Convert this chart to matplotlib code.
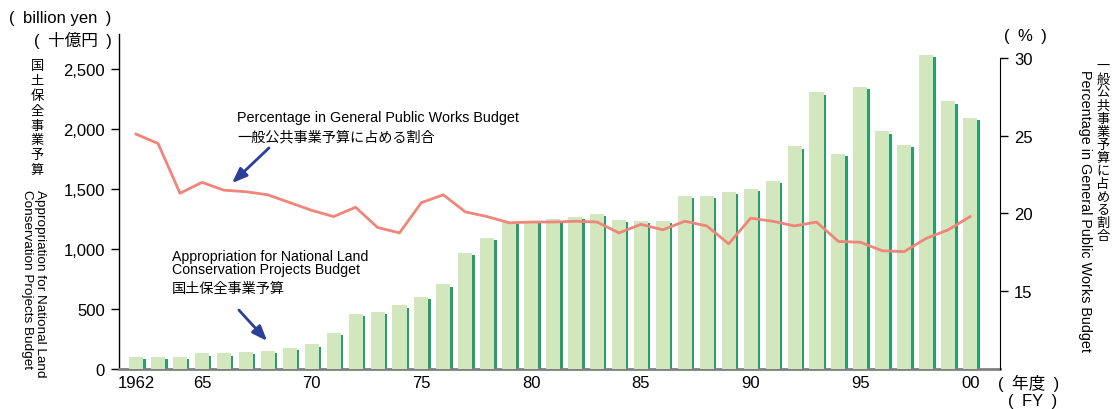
import numpy as np
import matplotlib
matplotlib.use('Agg')
import matplotlib.pyplot as plt

plt.rcParams['font.family'] = ['Liberation Sans', 'Noto Sans CJK JP', 'DejaVu Sans']

# Data
years = list(range(1962, 2001))
budget = [100, 100, 98, 130, 130, 140, 150, 175, 205, 300,
          460, 475, 530, 600, 705, 965, 1095, 1225, 1235, 1250,
          1265, 1290, 1240, 1235, 1235, 1440, 1440, 1475, 1500, 1565,
          1855, 2305, 1790, 2350, 1980, 1865, 2615, 2230, 2095]
share = [25.1, 24.5, 21.3, 22.0, 21.5, 21.4, 21.2, 20.7, 20.2, 19.8,
         20.4, 19.1, 18.75, 20.7, 21.2, 20.1, 19.8, 19.4, 19.45, 19.45,
         19.5, 19.45, 18.75, 19.3, 18.95, 19.5, 19.2, 18.05, 19.7, 19.5,
         19.2, 19.45, 18.2, 18.15, 17.6, 17.55, 18.4, 18.95, 19.8]
tick_years = [1962, 1965, 1970, 1975, 1980, 1985, 1990, 1995, 2000]
tick_labels = ['1962', '65', '70', '75', '80', '85', '90', '95', '00']

light = '#d3e7bf'
dark = '#2a9d6c'
red = '#f0857a'
navy = '#2b3f98'
fs = 12
sp = '\u2002'  # en space, parentheses in the original are spaced wide

fig = plt.figure(figsize=(11.16, 4.10), dpi=100)
ax = fig.add_axes([119 / 1116, 1 - 370 / 410, (1000 - 119) / 1116, (370 - 35) / 410])
ax2 = ax.twinx()

yrs = np.array(years)
vals = np.array(budget)
# 3D-ish bars: dark side strip then light face
ax.bar(yrs + 0.30, vals - 18, width=0.13, align='edge', color=dark, zorder=2)
ax.bar(yrs, vals, width=0.64, color=light, zorder=3)

ax.set_xlim(1961.22, 2001.36)
ax.set_ylim(0, 2792)
ax.set_yticks([0, 500, 1000, 1500, 2000, 2500])
ax.set_yticklabels(['0', '500', '1,000', '1,500', '2,000', '2,500'])
ax.set_xticks(tick_years)
ax.set_xticklabels(tick_labels)
ax.tick_params(axis='x', length=0, pad=4, labelsize=fs)
ax.tick_params(axis='y', length=6, width=1, labelsize=fs, pad=4)
for s in ['top', 'right']:
    ax.spines[s].set_visible(False)
ax.spines['bottom'].set_color('#808080')
ax.spines['bottom'].set_linewidth(2)
ax.spines['left'].set_linewidth(1)

ax2.plot(yrs, share, color=red, lw=2, zorder=4)
ax2.set_ylim(10, 31.54)
ax2.set_yticks([15, 20, 25, 30])
ax2.tick_params(axis='y', length=6, width=1, labelsize=fs, pad=4)
ax2.spines['right'].set_bounds(10, 30)
for s in ['top', 'left', 'bottom']:
    ax2.spines[s].set_visible(False)
ax.set_zorder(ax2.get_zorder() - 1)
ax.patch.set_visible(False)

# Axis unit labels
fig.text(60 / 1116, 1 - 18 / 410, f'({sp}billion yen{sp})', ha='center', va='center', fontsize=fs)
fig.text(112 / 1116, 1 - 40 / 410, f'({sp}十億円{sp})', ha='right', va='center', fontsize=fs)
fig.text(1025 / 1116, 1 - 37 / 410, f'({sp}%{sp})', ha='center', va='center', fontsize=fs)
fig.text(1029 / 1116, 1 - 383 / 410, f'({sp}年度{sp})', ha='center', va='center', fontsize=fs)
fig.text(1033 / 1116, 1 - 402 / 410, f'({sp}FY{sp})', ha='center', va='center', fontsize=fs)

# Vertical axis titles
fig.text(37 / 1116, 1 - 61 / 410, '\n'.join('国土保全事業予算'), ha='center', va='top',
         fontsize=9.5, linespacing=1.3)
fig.text(46 / 1116, 1 - 190 / 410, 'Appropriation for National Land\nConservation Projects Budget',
         rotation=270, ha='left', va='top', fontsize=9.7, multialignment='left',
         rotation_mode='anchor', linespacing=1.15)
fig.text(1103 / 1116, 1 - 61 / 410, '\n'.join('一般公共事業予算に占める割合'), ha='center', va='top',
         fontsize=9.5, linespacing=1.11)
fig.text(1092 / 1116, 1 - 70 / 410, 'Percentage in General Public Works Budget',
         rotation=270, ha='left', va='top', fontsize=10.4, rotation_mode='anchor')

# Annotations
fig.text(237 / 1116, 1 - 118 / 410, 'Percentage in General Public Works Budget',
         ha='left', va='center', fontsize=10.4)
fig.text(237 / 1116, 1 - 137 / 410, '一般公共事業予算に占める割合',
         ha='left', va='center', fontsize=10.2)
fig.text(172 / 1116, 1 - 250 / 410, 'Appropriation for National Land\nConservation Projects Budget',
         ha='left', va='top', fontsize=10.2, linespacing=0.95)
fig.text(172 / 1116, 1 - 289 / 410, '国土保全事業予算', ha='left', va='center', fontsize=10.2)

arrow = dict(arrowstyle='-|>,head_length=0.9,head_width=0.35', color=navy, lw=2)
ax.annotate('', xy=(230 / 1116, 1 - 186 / 410), xytext=(271 / 1116, 1 - 147 / 410),
            xycoords='figure fraction', textcoords='figure fraction', arrowprops=arrow)
ax.annotate('', xy=(269 / 1116, 1 - 344 / 410), xytext=(237 / 1116, 1 - 309 / 410),
            xycoords='figure fraction', textcoords='figure fraction', arrowprops=arrow)

plt.savefig('out.png', dpi=100)
